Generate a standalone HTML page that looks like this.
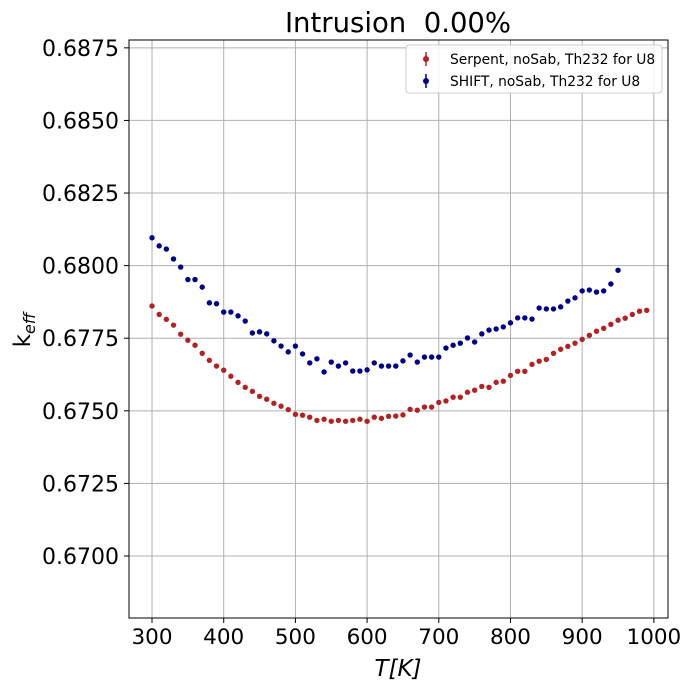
<!DOCTYPE html>
<html><head><meta charset="utf-8"><style>
html,body{margin:0;padding:0;background:#fff;}
svg{display:block;font-family:"DejaVu Sans","Liberation Sans",sans-serif;}
</style></head><body>
<svg id="chart" width="690" height="690" viewBox="0 0 690 690" xmlns="http://www.w3.org/2000/svg">
<rect width="690" height="690" fill="#fff"/>
<text x="398" y="32" font-size="27.5" text-anchor="middle" xml:space="preserve">Intrusion  0.00%</text>
<g id="grid"></g>
<g id="marks"></g>
<rect x="129" y="40" width="539" height="578" fill="none" stroke="#000" stroke-width="1"/>
<g id="ticks"></g>
<text x="398" y="676" font-size="23" text-anchor="middle" font-style="italic">T[K]</text>
<text transform="translate(30,330) rotate(-90)" font-size="23" text-anchor="middle">k<tspan font-size="16" dy="5" font-style="italic">eff</tspan></text>
<g>
<rect x="406" y="45" width="256" height="48" rx="3" fill="#fff" fill-opacity="0.85" stroke="#ccc"/>
<line x1="426" y1="52" x2="426" y2="66" stroke="#b22222" stroke-width="1.5"/>
<circle cx="426" cy="59" r="3" fill="#b22222"/>
<text x="450" y="64" font-size="13.8">Serpent, noSab, Th232 for U8</text>
<line x1="426" y1="74" x2="426" y2="88" stroke="#00008b" stroke-width="1.5"/>
<circle cx="426" cy="81" r="3" fill="#00008b"/>
<text x="450" y="86" font-size="13.8">SHIFT, noSab, Th232 for U8</text>
</g>
</svg>
<script>
const serpentT = [];
for (let t = 300; t <= 990; t += 10) serpentT.push(t);
const serpentK = [0.67861,0.67832,0.67815,0.67795,0.67764,0.67743,0.67726,0.67698,0.67674,0.67654,0.67640,0.67619,0.67598,0.67581,0.67567,0.67550,0.67540,0.67526,0.67516,0.67504,0.67488,0.67485,0.67478,0.67467,0.67471,0.67464,0.67467,0.67464,0.67467,0.67471,0.67464,0.67478,0.67474,0.67481,
0.67482,0.67486,0.67505,0.67502,0.67513,0.67513,0.67529,0.67534,0.67547,0.67547,0.67564,0.67571,0.67584,0.67581,0.67598,0.67602,0.67622,0.67636,0.67636,0.67660,0.67671,0.67677,0.67698,0.67712,0.67722,0.67733,0.67746,0.67760,0.67774,0.67784,0.67798,0.67812,0.67819,0.67832,0.67843,0.67846];
const shiftT = [];
for (let t = 300; t <= 950; t += 10) shiftT.push(t);
const shiftK = [0.68096,0.68068,0.68057,0.68023,0.67995,0.67952,0.67952,0.67926,0.67872,0.67869,0.67840,0.67840,0.67827,0.67809,0.67768,0.67772,0.67765,0.67741,0.67723,0.67703,0.67723,0.67696,0.67665,0.67679,0.67634,0.67668,0.67654,0.67665,0.67637,0.67637,0.67641,0.67665,0.67654,0.67654,0.67654,
0.67672,0.67692,0.67668,0.67685,0.67685,0.67685,0.67716,0.67726,0.67733,0.67751,0.67737,0.67765,0.67778,0.67782,0.67789,0.67803,0.67820,0.67820,0.67816,0.67854,0.67851,0.67851,0.67858,0.67878,0.67889,0.67913,0.67916,0.67909,0.67913,0.67937,0.67984];
const shiftErr = [0.00008];
const xTicks = [300,400,500,600,700,800,900,1000];
const yTicks = [0.6700,0.6725,0.6750,0.6775,0.6800,0.6825,0.6850,0.6875];

const X0=129,X1=668,Y0=40,Y1=618;
const xMin=267.9,xMax=1019.7,yMin=0.667865,yMax=0.68777;
function sx(v){return X0+(v-xMin)/(xMax-xMin)*(X1-X0);}
function sy(v){return Y1-(v-yMin)/(yMax-yMin)*(Y1-Y0);}
const NS="http://www.w3.org/2000/svg";
function mk(tag,attrs,parent){const e=document.createElementNS(NS,tag);for(const k in attrs)e.setAttribute(k,attrs[k]);parent.appendChild(e);return e;}
const grid=document.getElementById('grid'),ticks=document.getElementById('ticks'),marks=document.getElementById('marks');
xTicks.forEach(t=>{
  const x=sx(t);
  const g=mk('line',{x1:x,x2:x,y1:Y0,y2:Y1,stroke:'#b0b0b0','stroke-width':1},grid);
  
  
  mk('line',{x1:x,x2:x,y1:Y1,y2:Y1+5,stroke:'#000'},ticks);
  const tx=mk('text',{x:x,y:Y1+26,'font-size':21.5,'text-anchor':'middle'},ticks);
  tx.textContent=t;
  
  
});
yTicks.forEach(t=>{
  const y=sy(t);
  const g=mk('line',{x1:X0,x2:X1,y1:y,y2:y,stroke:'#b0b0b0','stroke-width':1},grid);
  
  
  mk('line',{x1:X0-5,x2:X0,y1:y,y2:y,stroke:'#000'},ticks);
  const tx=mk('text',{x:X0-10,y:y+8,'font-size':22,'text-anchor':'end'},ticks);
  tx.textContent=t.toFixed(4);
  
  
});
serpentT.forEach((t,i)=>{
  const c=mk('circle',{cx:sx(t),cy:sy(serpentK[i]),r:2.7,fill:'#b22222'},marks);
  
  
});
shiftT.forEach((t,i)=>{
  const x=sx(t),y=sy(shiftK[i]);
  const l=mk('line',{x1:x,x2:x,y1:sy(shiftK[i]+shiftErr[0]),y2:sy(shiftK[i]-shiftErr[0]),stroke:'#00008b','stroke-width':1.5},marks);
  
  
  const c=mk('circle',{cx:x,cy:y,r:2.7,fill:'#00008b'},marks);
  
  
});
</script>
</body></html>
